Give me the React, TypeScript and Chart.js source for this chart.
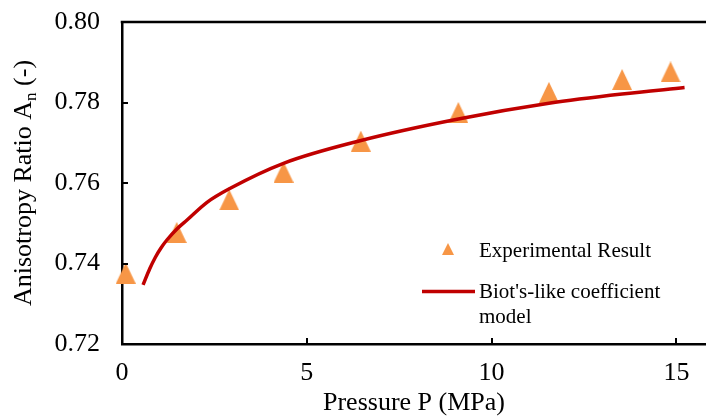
import React, { useEffect, useRef } from "react";
import { Chart, registerables } from "chart.js";

Chart.register(...registerables);

// Measured anisotropy ratio against confining pressure
const pressure = [0.1, 1.48, 2.9, 4.37, 6.46, 9.1, 11.55, 13.53, 14.84];
const anisotropy = [0.7376, 0.7477, 0.7558, 0.7627, 0.7704, 0.7775, 0.7825, 0.7857, 0.7876];

// Biot's-like coefficient model curve
const modelPressure = [0.57, 0.75, 0.9, 1.05, 1.22, 1.5, 1.76, 2.3, 2.93, 4.37, 6.44, 9.1, 11.55, 13.53, 15.22];
const modelRatio = [0.7347, 0.7387, 0.7415, 0.7438, 0.7459, 0.7487, 0.7508, 0.7552, 0.7587, 0.7649, 0.7705, 0.7759, 0.7798, 0.7821, 0.7837];

const xTicks = [0, 5, 10, 15];
const yTicks = [0.72, 0.74, 0.76, 0.78, 0.8];

const xTitle = "Pressure P (MPa)";
const yTitleMain = "Anisotropy Ratio A";
const yTitleSub = "n";
const yTitleTail = " (-)";
const legendPoints = "Experimental Result";
const legendModel = ["Biot's-like coefficient", "model"];

const FONT = "'Liberation Serif', 'Times New Roman', serif";
const ORANGE = "#F79646";
const RED = "#C00000";

function makeTriangle(w: number, h: number, color: string) {
  const c = document.createElement("canvas");
  c.width = w;
  c.height = h;
  const g = c.getContext("2d")!;
  g.fillStyle = color;
  g.beginPath();
  g.moveTo(w / 2, 0);
  g.lineTo(w, h);
  g.lineTo(0, h);
  g.closePath();
  g.fill();
  return c;
}

const extras = {
  id: "extras",
  afterDraw(chart: any) {
    const { ctx, chartArea: a, scales } = chart;
    const xs = scales.x;
    const ys = scales.y;
    ctx.save();

    // top frame line
    ctx.strokeStyle = "#000";
    ctx.lineWidth = 2.5;
    ctx.beginPath();
    ctx.moveTo(a.left - 1.25, a.top);
    ctx.lineTo(a.right, a.top);
    ctx.stroke();

    // inward tick marks
    ctx.lineWidth = 2;
    ctx.beginPath();
    xTicks.forEach((v) => {
      const px = Math.round(xs.getPixelForValue(v));
      ctx.moveTo(px, a.bottom);
      ctx.lineTo(px, a.bottom - 6);
    });
    yTicks.forEach((v) => {
      const py = Math.round(ys.getPixelForValue(v));
      ctx.moveTo(a.left, py);
      ctx.lineTo(a.left + 6, py);
    });
    ctx.stroke();

    // axis titles
    ctx.fillStyle = "#000";
    ctx.textBaseline = "alphabetic";
    ctx.font = `26px ${FONT}`;
    ctx.textAlign = "center";
    ctx.fillText(xTitle, (a.left + a.right) / 2, 410);

    ctx.save();
    ctx.translate(31, (a.top + a.bottom) / 2);
    ctx.rotate(-Math.PI / 2);
    ctx.textAlign = "left";
    ctx.font = `26px ${FONT}`;
    const w1 = ctx.measureText(yTitleMain).width;
    const w3 = ctx.measureText(yTitleTail).width;
    ctx.font = `17px ${FONT}`;
    const w2 = ctx.measureText(yTitleSub).width;
    const start = -(w1 + w2 + w3) / 2;
    ctx.font = `26px ${FONT}`;
    ctx.fillText(yTitleMain, start, 0);
    ctx.fillText(yTitleTail, start + w1 + w2, 0);
    ctx.font = `17px ${FONT}`;
    ctx.fillText(yTitleSub, start + w1, 5);
    ctx.restore();

    // legend
    ctx.drawImage(makeTriangle(12, 12, ORANGE), 442, 243);
    ctx.strokeStyle = RED;
    ctx.lineWidth = 3.5;
    ctx.beginPath();
    ctx.moveTo(422, 291.5);
    ctx.lineTo(475, 291.5);
    ctx.stroke();
    ctx.fillStyle = "#000";
    ctx.font = `21px ${FONT}`;
    ctx.textAlign = "left";
    ctx.fillText(legendPoints, 479, 256.5);
    ctx.fillText(legendModel[0], 479, 298);
    ctx.fillText(legendModel[1], 479, 322.5);

    ctx.restore();
  },
};

export default function App() {
  const ref = useRef<HTMLCanvasElement | null>(null);

  useEffect(() => {
    const canvas = ref.current;
    if (!canvas) return;
    const triangle = makeTriangle(20, 21, ORANGE);
    const tickFont = { family: FONT, size: 26 };

    const chart = new Chart(canvas, {
      type: "scatter",
      data: {
        datasets: [
          {
            type: "line",
            label: "Biot's-like coefficient model",
            data: modelPressure.map((p, i) => ({ x: p, y: modelRatio[i] })),
            borderColor: RED,
            borderWidth: 3.5,
            pointRadius: 0,
            fill: false,
            cubicInterpolationMode: "monotone",
            order: 0,
          } as any,
          {
            type: "scatter",
            label: "Experimental Result",
            data: pressure.map((p, i) => ({ x: p, y: anisotropy[i] })),
            pointStyle: triangle,
            pointRadius: 10,
            backgroundColor: ORANGE,
            borderColor: ORANGE,
            clip: false,
            order: 1,
          } as any,
        ],
      },
      options: {
        animation: false,
        responsive: false,
        layout: { autoPadding: false, padding: { top: 22, right: 0, left: 0, bottom: 0 } },
        plugins: {
          legend: { display: false },
          tooltip: { enabled: false },
        },
        scales: {
          x: {
            type: "linear",
            min: 0,
            max: 15.8,
            afterBuildTicks: (s: any) => {
              s.ticks = xTicks.map((v) => ({ value: v }));
            },
            afterFit: (s: any) => {
              s.height = 73;
              s.paddingLeft = 0;
              s.paddingRight = 0;
            },
            grid: { display: false, drawTicks: false },
            border: { display: true, color: "#000", width: 2.5 },
            ticks: {
              font: tickFont,
              color: "#000",
              padding: 14,
              maxRotation: 0,
              callback: (v: any) => String(v),
            },
          },
          y: {
            type: "linear",
            min: 0.72,
            max: 0.8,
            afterBuildTicks: (s: any) => {
              s.ticks = yTicks.map((v) => ({ value: v }));
            },
            afterFit: (s: any) => {
              s.width = 122;
              s.paddingTop = 0;
              s.paddingBottom = 0;
            },
            grid: { display: false, drawTicks: false },
            border: { display: true, color: "#000", width: 2.5 },
            ticks: {
              font: tickFont,
              color: "#000",
              padding: 22,
              callback: (v: any) => Number(v).toFixed(2),
            },
          },
        },
      } as any,
      plugins: [extras],
    });

    return () => chart.destroy();
  }, []);

  return (
    <div style={{ position: "absolute", left: 0, top: 0, width: 706, height: 417, background: "#fff" }}>
      <canvas ref={ref} width={706} height={417} style={{ display: "block" }} />
    </div>
  );
}
